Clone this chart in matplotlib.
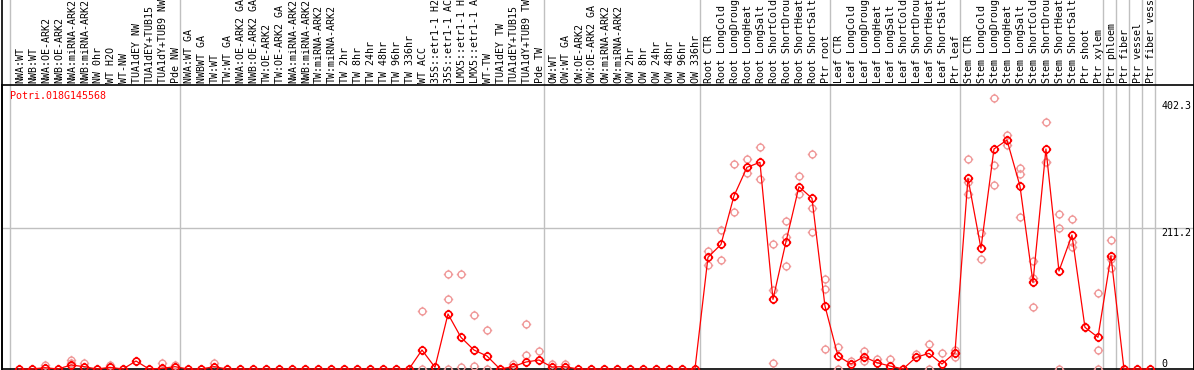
import matplotlib
matplotlib.use("Agg")
import matplotlib.pyplot as plt
import matplotlib.transforms as mtransforms
from matplotlib.path import Path
import numpy as np

gene = "Potri.018G145568"

labels = [
    # NW
    "NWA:WT", "NWB:WT", "NWA:OE-ARK2", "NWB:OE-ARK2", "NWA:miRNA-ARK2", "NWB:miRNA-ARK2",
    "NW 0hr", "WT H2O", "WT-NW", "TUA1dEY NW", "TUA1dEY+TUB15", "TUA1dY+TUB9 NW", "Pde NW",
    # TW
    "NWA:WT GA", "NWBWT GA", "TW:WT", "TW:WT GA", "NWA:OE-ARK2 GA", "NWB:OE-ARK2 GA",
    "TW:OE-ARK2", "TW:OE-ARK2 GA", "NWA:miRNA-ARK2", "NWB:miRNA-ARK2", "TW:miRNA-ARK2",
    "TW:miRNA-ARK2", "TW 2hr", "TW 8hr", "TW 24hr", "TW 48hr", "TW 96hr", "TW 336hr",
    "WT ACC", "35S::etr1-1 H2", "35S::etr1-1 AC", "LMX5::etr1-1 H", "LMX5::etr1-1 A",
    "WT-TW", "TUA1dEY TW", "TUA1dEY+TUB15", "TUA1dY+TUB9 TW", "Pde TW",
    # OW
    "OW:WT", "OW:WT GA", "OW:OE-ARK2", "OW:OE-ARK2 GA", "OW:miRNA-ARK2", "OW:miRNA-ARK2",
    "OW 2hr", "OW 8hr", "OW 24hr", "OW 48hr", "OW 96hr", "OW 336hr",
    # root
    "Root CTR", "Root LongCold", "Root LongDroug", "Root LongHeat", "Root LongSalt",
    "Root ShortCold", "Root ShortDrou", "Root ShortHeat", "Root ShortSalt", "Ptr root",
    # leaf
    "Leaf CTR", "Leaf LongCold", "Leaf LongDroug", "Leaf LongHeat", "Leaf LongSalt",
    "Leaf ShortCold", "Leaf ShortDrou", "Leaf ShortHeat", "Leaf ShortSalt", "Ptr leaf",
    # stem
    "Stem CTR", "Stem LongCold", "Stem LongDroug", "Stem LongHeat", "Stem LongSalt",
    "Stem ShortCold", "Stem ShortDrou", "Stem ShortHeat", "Stem ShortSalt", "Ptr shoot",
    "Ptr xylem", "Ptr phloem", "Ptr fiber", "Ptr vessel", "Ptr fiber vess",
]

# mean expression per sample
means = [
    0, 0, 2, 0, 6, 3.5, 0, 2.5, 0, 12, 0, 1, 3.5,
    0, 0, 3.5, 0, 0, 0, 0, 0, 0, 0, 0, 0, 0, 0, 0, 0, 0, 0,
    28.5, 2.5, 82.6, 47.5, 28.5, 19.5, 0, 3.5, 10.5, 13.5,
    3, 3.5, 0, 0, 0, 0, 0, 0, 0, 0, 0, 0,
    167.7, 187, 259.8, 302.8, 310.3, 104.5, 191, 273.8, 256.3, 94.6,
    19.5, 7.5, 18.5, 9.5, 4.5, 0, 17.5, 23.5, 7.5, 24.5,
    286.3, 181.2, 330.3, 343.8, 274.8, 130.2, 330.3, 147.1, 201.2, 62.6,
    47.6, 169.7, 0, 0, 0,
]

# individual replicates (sample index, value)
rep_idx = [
    2, 4, 4, 5, 7, 11, 12, 15,
    31, 31, 33, 33, 33, 34, 34, 35, 35, 36, 36, 38, 39, 39, 40, 41, 42,
    53, 53, 54, 54, 55, 55, 56, 56, 57, 57, 58, 58, 58, 59, 59, 59,
    60, 60, 61, 61, 61, 62, 62, 62,
    63, 63, 64, 65, 65, 66, 67, 69, 70, 70, 71, 72, 72,
    73, 73, 73, 74, 74, 75, 75, 75, 76, 76, 77, 77, 77, 78, 78, 78,
    79, 79, 79, 80, 80, 80, 81, 81, 81, 82, 82, 83, 83, 83, 84, 84, 84,
]
rep_val = [
    6, 13.5, 9, 9, 6, 9, 6.5, 9,
    87, 0, 104.6, 142, 0, 142, 3, 81, 5, 58.5, 0, 7.5, 67.5, 21, 27, 7.5, 7,
    177, 156, 208.7, 163.7, 307.8, 235, 315, 293.8, 333, 284.8, 187, 118.6, 8.5, 222, 154.6, 197.7,
    289.8, 262.8, 322.8, 241.3, 205.3, 135, 119.7, 30,
    32.5, 0, 12, 27, 12.5, 14.5, 14.5, 22, 37, 0, 23.5, 28.5, 17.5,
    315, 262.3, 281, 203.7, 165, 406.5, 306.3, 276.3, 351.4, 336.3, 302.3, 292.3, 227.8, 162.2, 137, 93.5,
    370.4, 311.3, 311.3, 232.3, 211.2, 0, 224.8, 191.2, 183.7, 62.6, 62.6, 113.7, 28.5, 0, 193.7, 165, 151.2,
]

group_ends = [12, 40, 52, 62, 72, 83, 84, 85, 86, 87]

# circle with four small ticks, like the original marker
circ = Path.circle((0, 0), 0.72)
ticks = Path([(0, 0.72), (0, 1), (0, -0.72), (0, -1), (0.72, 0), (1, 0), (-0.72, 0), (-1, 0)],
             [Path.MOVETO, Path.LINETO] * 4)
tick_circle = Path.make_compound_path(circ, ticks)

W, H = 1194, 370
fig = plt.figure(figsize=(W / 100, H / 100), dpi=100)
ax = fig.add_axes([1.5 / W, 0, 1192 / W, 285 / H])

x = np.arange(len(labels))
ax.set_xlim(-1.346, 90.35)
ax.set_ylim(-1.5, 426.4)

ax.axhline(211.2, color="#c0c0c0", lw=1, zorder=0)
ax.axhline(0, color="black", lw=1.2, zorder=1)

# separators run up through the label area
sep_x = [-0.68] + [e + 0.4 for e in group_ends]
for s in sep_x:
    ax.axvline(s, ymin=0, ymax=H / 285, color="#c0c0c0", lw=1, clip_on=False, zorder=0)

ax.plot(rep_idx, rep_val, linestyle="none", marker=tick_circle, markersize=6.8,
        markerfacecolor="none", markeredgecolor="#f09a9a", markeredgewidth=1.0, zorder=2)
ax.plot(x, means, color="red", lw=0.9, zorder=3)
ax.plot(x, means, linestyle="none", marker=tick_circle, markersize=6.8,
        markerfacecolor="none", markeredgecolor="red", markeredgewidth=1.2, zorder=4)

mono = "DejaVu Sans Mono"
trans = mtransforms.blended_transform_factory(ax.transData, ax.transAxes)
for i, lab in enumerate(labels):
    ax.text(i + 0.08, 1 + 2 / 285, lab, rotation=90, ha="center", va="bottom",
            transform=trans, family=mono, fontsize=7.2, clip_on=False)

ax.text(8.5 / 1192, 1 - 11 / 285, gene, transform=ax.transAxes, color="red",
        family=mono, fontsize=7.2, ha="left", va="center")
ax.text(87.9, 402.3, "402.3", family=mono, fontsize=7.2, ha="left", va="top")
ax.text(87.9, 211.2, "211.2", family=mono, fontsize=7.2, ha="left", va="top")
ax.text(87.9, 0, "0", family=mono, fontsize=7.2, ha="left", va="bottom")

for sp in ["left", "right", "top"]:
    ax.spines[sp].set_color("black")
    ax.spines[sp].set_linewidth(1.2)
ax.spines["bottom"].set_visible(False)
ax.set_xticks([])
ax.set_yticks([])

# the outer frame lines go up to the top of the picture
for fx in [1.5 / W, 1193.5 / W]:
    fig.add_artist(plt.Line2D([fx, fx], [0, 1], color="black", lw=1.2))

fig.savefig("out.png", dpi=100)
